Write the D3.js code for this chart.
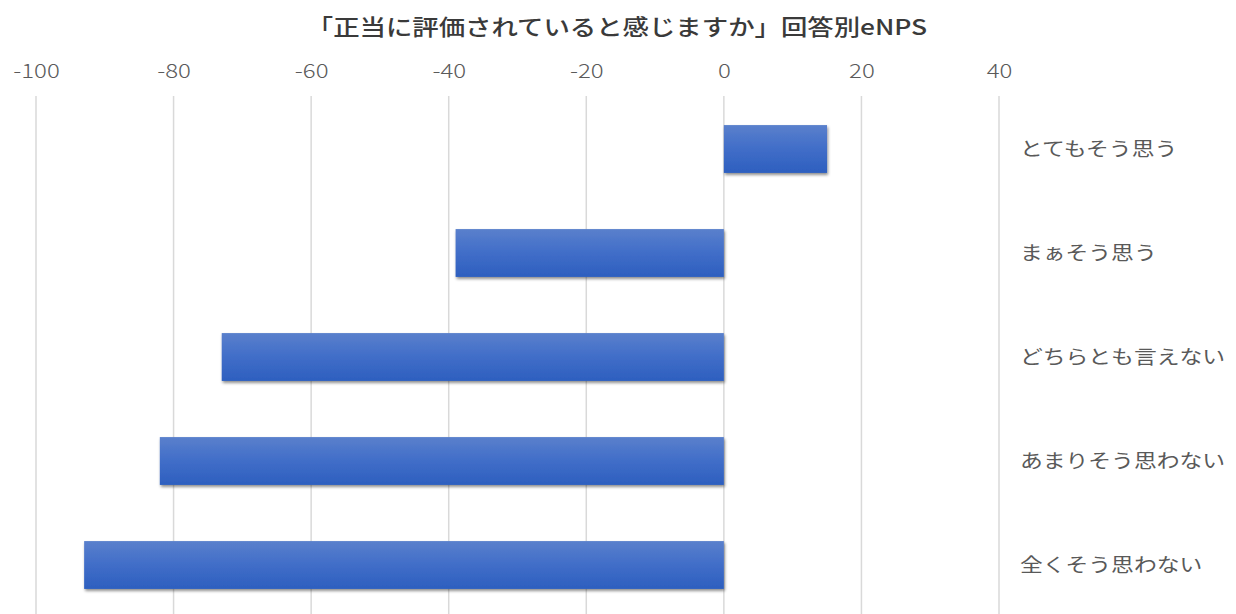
<!DOCTYPE html>
<html>
<head>
<meta charset="utf-8">
<script src="https://cdn.jsdelivr.net/npm/d3@7/dist/d3.min.js"></script>
<style>
  html, body { margin: 0; padding: 0; background: #fff; }
  svg { display: block; font-family: "Noto Sans CJK JP", "Noto Sans", sans-serif; }
</style>
</head>
<body>
<svg id="chart" width="1236" height="614"></svg>
<script>
// Answer categories (top to bottom) and their eNPS values
const categories = ["とてもそう思う", "まぁそう思う", "どちらとも言えない", "あまりそう思わない", "全くそう思わない"];
const enps = [15, -39, -73, -82, -93];
const tickValues = [-100, -80, -60, -40, -20, 0, 20, 40];
const title = "「正当に評価されていると感じますか」回答別eNPS";

const svg = d3.select("#chart");
const W = 1236, H = 614;
const WIDE = 1.2; // horizontal stretch applied to all text

const x = d3.scaleLinear().domain([-100, 40]).range([36, 999]);
const y = d3.scaleBand().domain(categories).range([97, 617]).paddingInner(0.54).paddingOuter(0.27);

// Bar fill: lighter at the top edge, deeper blue at the bottom
const defs = svg.append("defs");
const grad = defs.append("linearGradient").attr("id", "barGrad")
  .attr("x1", 0).attr("y1", 0).attr("x2", 0).attr("y2", 1);
grad.append("stop").attr("offset", "0%").attr("stop-color", "#5a80cc");
grad.append("stop").attr("offset", "45%").attr("stop-color", "#436fc9");
grad.append("stop").attr("offset", "100%").attr("stop-color", "#2d5fbf");

const shadow = defs.append("filter").attr("id", "barShadow")
  .attr("x", "-5%").attr("y", "-20%").attr("width", "110%").attr("height", "150%");
shadow.append("feDropShadow").attr("dx", 1).attr("dy", 2).attr("stdDeviation", 1.6)
  .attr("flood-color", "#000").attr("flood-opacity", 0.45);

// Title
svg.append("g").attr("transform", `translate(617,35) scale(${WIDE},1)`)
  .append("text")
  .attr("text-anchor", "middle")
  .attr("font-size", 22).attr("font-weight", 500)
  .attr("fill", "#3a3a3a")
  .text(title);

// Vertical gridlines and top tick labels
const axis = d3.axisTop(x).tickValues(tickValues).tickSize(0).tickPadding(0)
  .tickFormat(d => String(d));
const gAxis = svg.append("g").attr("transform", "translate(0,78)").call(axis);
gAxis.select(".domain").remove();
gAxis.selectAll("text")
  .attr("transform", `scale(${WIDE},1)`)
  .attr("font-family", "'Noto Sans CJK JP', 'Noto Sans', sans-serif")
  .attr("font-size", 20).attr("font-weight", 300)
  .attr("fill", "#5a5a5a");

svg.append("g").selectAll("line")
  .data(tickValues)
  .join("line")
  .attr("x1", d => x(d)).attr("x2", d => x(d))
  .attr("y1", 96).attr("y2", H)
  .attr("stroke", "#d9d9d9").attr("stroke-width", 1.5);

// Bars
svg.append("g").selectAll("rect")
  .data(categories.map((c, i) => ({ c, v: enps[i] })))
  .join("rect")
  .attr("x", d => x(Math.min(0, d.v)))
  .attr("y", d => y(d.c))
  .attr("width", d => Math.abs(x(d.v) - x(0)))
  .attr("height", y.bandwidth())
  .attr("fill", "url(#barGrad)")
  .attr("filter", "url(#barShadow)");

// Category labels on the right
svg.append("g").selectAll("g")
  .data(categories)
  .join("g")
  .attr("transform", d => `translate(1020,${y(d) + y.bandwidth() / 2}) scale(${WIDE},1)`)
  .append("text")
  .attr("dy", "0.36em")
  .attr("font-size", 19).attr("font-weight", 400)
  .attr("fill", "#595959")
  .text(d => d);
</script>
</body>
</html>
